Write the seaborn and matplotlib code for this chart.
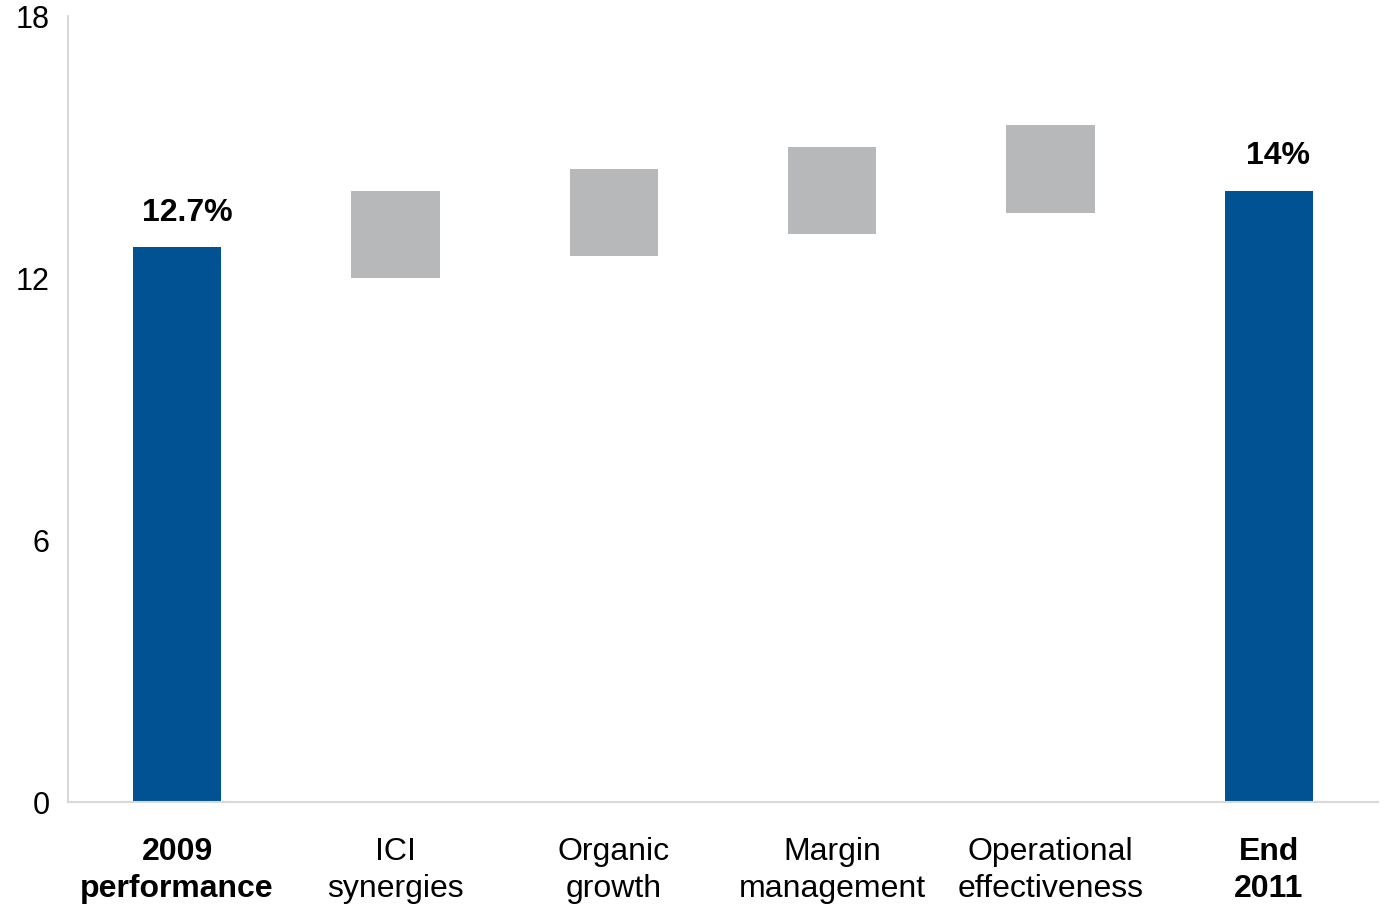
import matplotlib
matplotlib.use("Agg")
import matplotlib.pyplot as plt
import pandas as pd
import seaborn as sns

# Categories along the bridge
categories = ["2009\nperformance", "ICI\nsynergies", "Organic\ngrowth",
              "Margin\nmanagement", "Operational\neffectiveness", "End\n2011"]

# Start and end totals (%)
total_labels = ["2009\nperformance", "End\n2011"]
total_values = [12.7, 14.0]

# Floating step bars: lower and upper edges (%)
step_labels = ["ICI\nsynergies", "Organic\ngrowth", "Margin\nmanagement", "Operational\neffectiveness"]
step_low = [12.0, 12.5, 13.0, 13.5]
step_high = [14.0, 14.5, 15.0, 15.5]

y_ticks = [0, 6, 12, 18]

BLUE = "#005293"
GREY = "#B7B8BA"
SPINE = "#D9D9D9"

sns.set_theme(style="white")
plt.rcParams["font.family"] = ["Liberation Sans", "DejaVu Sans"]

fig = plt.figure(figsize=(13.84, 9.11), dpi=100)
ax = fig.add_axes([0.0491, 0.1196, 0.9465, 0.8628])

totals = pd.DataFrame({"cat": total_labels, "value": total_values})
steps = pd.DataFrame({"cat": step_labels,
                      "height": [h - l for h, l in zip(step_high, step_low)]})

sns.barplot(data=totals, x="cat", y="value", order=categories, color=BLUE,
            saturation=1, width=0.405, linewidth=0, ax=ax)
sns.barplot(data=steps, x="cat", y="height", order=categories, color=GREY,
            saturation=1, width=0.405, linewidth=0, bottom=step_low, ax=ax)

# Value labels above the total bars
for name, val in zip(total_labels, total_values):
    xpos = categories.index(name)
    txt = f"{val:.1f}%" if val % 1 else f"{val:.0f}%"
    ax.annotate(txt, xy=(xpos, val), xytext=(7, 14), textcoords="offset points",
                ha="center", va="bottom", fontsize=23, fontweight="bold",
                color="black")

ax.set_xlim(-0.5, 5.5)
ax.set_ylim(0, 18)
ax.set_yticks(y_ticks)
ax.set_yticklabels([str(t) for t in y_ticks], fontsize=22, color="black")
ax.set_xlabel("")
ax.set_ylabel("")

ax.tick_params(axis="y", length=0, pad=13)
ax.tick_params(axis="x", length=0, pad=25)
for lbl in ax.get_xticklabels():
    lbl.set_fontsize(23)
    lbl.set_color("black")
    lbl.set_linespacing(1.3)
    if lbl.get_text() in total_labels:
        lbl.set_fontweight("bold")

for side in ["top", "right"]:
    ax.spines[side].set_visible(False)
for side in ["left", "bottom"]:
    ax.spines[side].set_color(SPINE)
    ax.spines[side].set_linewidth(1.5)

fig.savefig("out.png", dpi=100, facecolor="white")
